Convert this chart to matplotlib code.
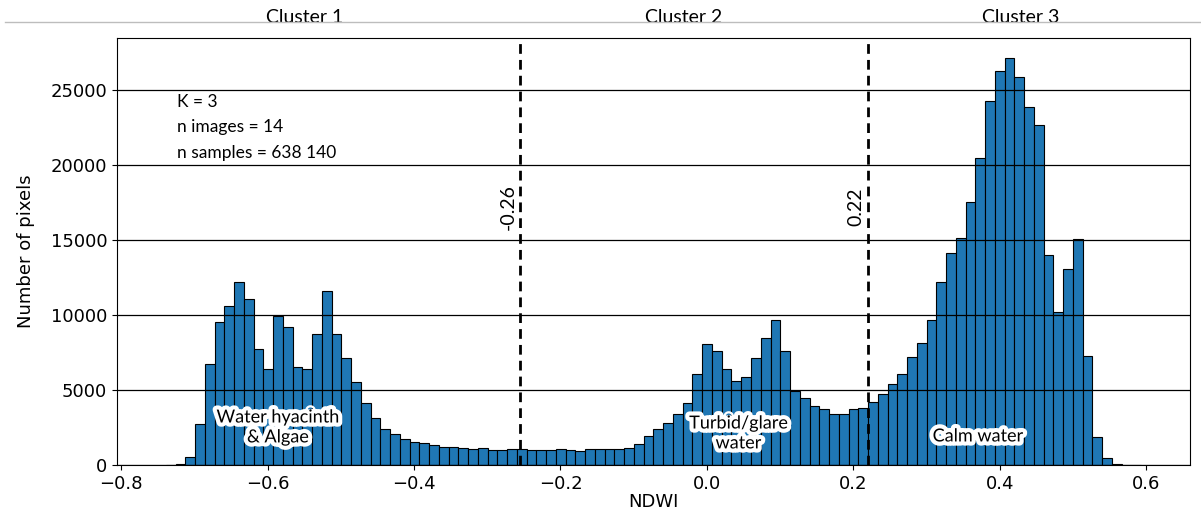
import numpy as np
import matplotlib
matplotlib.use("Agg")
import matplotlib.pyplot as plt
import matplotlib.patheffects as pe
from matplotlib.lines import Line2D

# histogram of NDWI values, 100 bins between min and max
ndwi_min = -0.739
ndwi_max = 0.593
counts = [
	20, 60, 511, 2711, 6711, 9556, 10600, 12178, 11044, 7733,
	6378, 9956, 9178, 6556, 6378, 8756, 11578, 8756, 7111, 5550,
	4130, 3150, 2430, 2040, 1756, 1556, 1489, 1333, 1222, 1222,
	1156, 1089, 1111, 978, 1000, 1044, 1089, 1000, 978, 978,
	1044, 1000, 933, 1044, 1044, 1089, 1089, 1156, 1378, 1933,
	2378, 2780, 3370, 4150, 6076, 8027, 7578, 6413, 5605, 5830,
	7130, 8430, 9641, 7578, 4955, 4439, 3946, 3722, 3386, 3386,
	3700, 3800, 4170, 4740, 5380, 6030, 7222, 8111, 9644, 12222,
	14089, 15111, 17489, 20444, 24267, 26222, 27089, 25867, 23822, 22644,
	13978, 10222, 13044, 15044, 7267, 1867, 489, 40, 10, 5,
]
thresholds = [-0.255, 0.22]
threshold_labels = ["-0.26", "0.22"]
cluster_names = ["Cluster 1", "Cluster 2", "Cluster 3"]
cluster_x = [-0.55, -0.032, 0.428]
class_names = ["Water hyacinth\n& Algae", "Turbid/glare\nwater", "Calm water"]
class_x = [-0.586, 0.043, 0.37]
class_y = [2500, 2100, 1900]
info_lines = ["K = 3", "n images = 14", "n samples = 638 140"]

edges = np.linspace(ndwi_min, ndwi_max, len(counts) + 1)
width = edges[1] - edges[0]

note_font = ["Lato", "DejaVu Sans"]

fig = plt.figure(figsize=(12.01, 5.22), dpi=100)
ax = fig.add_axes([0.0974, 0.1092, 0.8934, 0.818])

ax.bar(edges[:-1], counts, width=width, align="edge", color="#1f77b4",
	   edgecolor="black", linewidth=0.8)
ax.grid(axis="y", color="black", linewidth=0.9)
ax.set_xticks(np.arange(-0.8, 0.61, 0.2))
ax.set_yticks(np.arange(0, 25001, 5000))
ax.tick_params(axis="both", which="major", labelsize=13)
ax.set_xlabel("NDWI", fontsize=13, labelpad=0)
ax.set_ylabel("Number of pixels", fontsize=13, labelpad=11)

for t, lab in zip(thresholds, threshold_labels):
	ax.axvline(t, color="black", linestyle=(0, (3.5, 2.2)), linewidth=2)
	ax.text(t - 0.016, 17200, lab, rotation=90, ha="center", va="center",
			fontsize=14, family=note_font)

ax.text(0.056, 0.87, "\n".join(info_lines), transform=ax.transAxes, ha="left",
		va="top", fontsize=12.5, family=note_font, linespacing=1.75)

for x, y, name in zip(class_x, class_y, class_names):
	ax.text(x, y, name, ha="center", va="center", fontsize=13, family=note_font,
			linespacing=1.3,
			path_effects=[pe.withStroke(linewidth=6, foreground="white")])

for x, name in zip(cluster_x, cluster_names):
	ax.text(x, 1.047, name, transform=ax.get_xaxis_transform(), ha="center",
			va="center", fontsize=14, family=note_font)

fig.add_artist(Line2D([0.004, 1.0], [0.957, 0.957], transform=fig.transFigure,
					  color="#bdbdbd", linewidth=1))

fig.savefig("out.png", dpi=100)
